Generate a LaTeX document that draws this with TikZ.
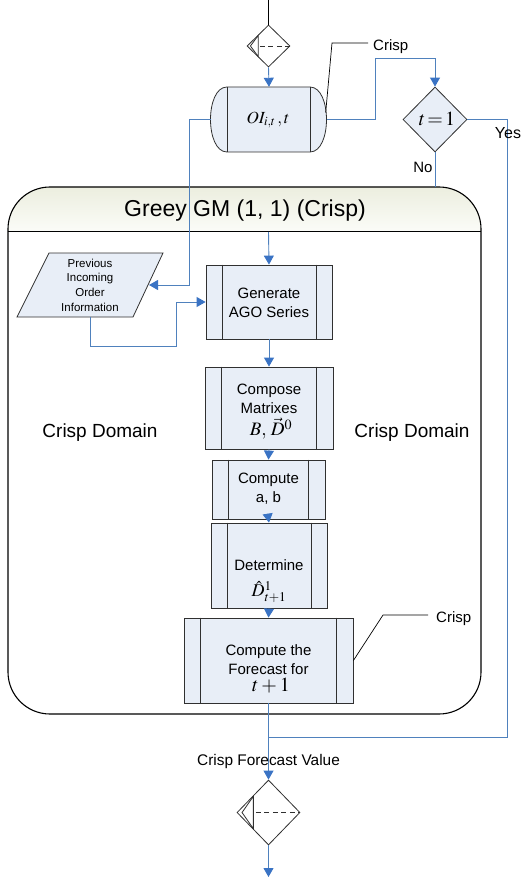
\documentclass[tikz,border=0pt]{standalone}
\usepackage{mathptmx}
\usepackage{fontspec}
\setmainfont{Liberation Sans}
\usetikzlibrary{arrows.meta,shapes.geometric,calc}
\definecolor{boxfill}{HTML}{E8EEF7}
\definecolor{linkblue}{HTML}{4F81BD}
\definecolor{tipblue}{HTML}{3A73C4}
\definecolor{hdrtop}{HTML}{ECEEDF}
\definecolor{hdrbot}{HTML}{FBFCF8}
\definecolor{boxedgec}{HTML}{303030}
\newcommand\subrlines[2]{\draw[boxedge] ([xshift=#2pt]#1.north west) -- ([xshift=#2pt]#1.south west) ([xshift=-#2pt]#1.north east) -- ([xshift=-#2pt]#1.south east);}
\newcommand\conndeco[3]{%
  \draw[boxedge] ($(#1.center)+(-0.48*#2,-0.5*#3)$) -- ($(#1.center)+(-0.84*#2,0)$) -- ($(#1.center)+(-0.48*#2,0.5*#3)$) -- cycle;
  \draw[boxedge, dash pattern=on 5pt off 3.5pt] ($(#1.center)+(-0.40*#2,0)$) -- (#1.east);}
\tikzset{
  boxedge/.style={draw=boxedgec, line width=0.8pt},
  procbox/.style={boxedge, fill=boxfill, inner sep=0pt},
  boxtext/.style={font=\fontsize{15}{19}\selectfont, align=center, inner sep=0pt},
  link/.style={draw=linkblue, line width=0.9pt},
  flow/.style={link, -{Triangle[width=10pt,length=9pt,color=tipblue]}},
  callout/.style={draw=black, line width=0.7pt},
  plain/.style={inner sep=0pt},
}
\begin{document}
\begin{tikzpicture}[x=1pt,y=-1pt]
\useasboundingbox (0,0) rectangle (522,877);

% container
\begin{scope}
  \clip[rounded corners=42pt] (8,187) rectangle (481,714);
  \shade[top color=hdrtop,bottom color=hdrbot] (8,187) rectangle (481,232);
\end{scope}
\draw[line width=1.1pt, black, rounded corners=42pt] (8,187) rectangle (481,714);
\draw[line width=1pt, black] (8,232) -- (481,232);
\node[plain, font=\fontsize{23}{23}\selectfont] (title) at (245,211) {Greey GM (1, 1) (Crisp)};
\coordinate (hdr) at (268.5,232);
\coordinate (noend) at (435,187);

\node[plain, font=\fontsize{19}{19}\selectfont] (domL) at (100,433) {Crisp Domain};
\node[plain, font=\fontsize{19}{19}\selectfont] (domR) at (412,433) {Crisp Domain};

% top connector
\coordinate (inend) at (268.5,0);
\node[diamond, aspect=1, boxedge, fill=white, minimum width=43pt, minimum height=42pt, inner sep=0pt] (tdia) at (268.5,46) {};
\conndeco{tdia}{21.5}{21}

% drum
\node[plain, minimum width=115pt, minimum height=65pt] (drum) at (269,119.5) {};
\draw[boxedge, fill=boxfill] (227,87) -- (310,87) .. controls (332,87) and (332,152) .. (310,152) -- (227,152) .. controls (205,152) and (205,87) .. (227,87) -- cycle;
\draw[boxedge] (227,87) -- (227,152) (310,87) -- (310,152);
\node[plain, font=\fontsize{17}{17}\selectfont] (drumtxt) at (268,120) {$OI_{i,t}\,,t$};

% decision
\node[diamond, aspect=1, boxedge, fill=boxfill, minimum width=64pt, minimum height=65pt, inner sep=0pt] (dec) at (435,119.5) {};
\node[plain, font=\fontsize{20}{20}\selectfont] (dectxt) at (437,119) {$t\!=\!1$};

% parallelogram
\draw[boxedge, fill=boxfill] (49,253) -- (163,253) -- (133,317) -- (17,317) -- cycle;
\node[plain, font=\fontsize{11.5}{14.6}\selectfont, align=center] (prev) at (90,285) {Previous\\Incoming\\Order\\Information};
\coordinate (prevR) at (149,285);
\coordinate (prevB) at (90,317);

% process boxes
\node[procbox, minimum width=126pt, minimum height=74pt] (gen) at (269,302) {};
\subrlines{gen}{16.5}
\node[boxtext] (gentxt) at (269,302.5) {Generate\\AGO Series};

\node[procbox, minimum width=128pt, minimum height=82pt] (comp) at (269,408) {};
\subrlines{comp}{17}
\node[boxtext] (comptxt) at (269,398.5) {Compose\\Matrixes};
\node[plain, font=\fontsize{19}{19}\selectfont] (compmath) at (271,429) {$B,\,\vec{D}^{0}$};

\node[procbox, minimum width=113pt, minimum height=59pt] (cab) at (268.5,489.5) {};
\subrlines{cab}{17}
\node[boxtext] (cabtxt) at (268.5,489) {Compute\\a, b};

\node[procbox, minimum width=116pt, minimum height=85pt] (det) at (269,565.5) {};
\subrlines{det}{16.5}
\node[boxtext] (dettxt) at (269,565) {Determine};
\node[plain, font=\fontsize{18}{18}\selectfont] (detmath) at (269,592) {$\hat{D}^{1}_{t+1}$};

\node[procbox, minimum width=169pt, minimum height=85pt] (fc) at (268.5,660.5) {};
\subrlines{fc}{17}
\node[boxtext] (fctxt) at (268.5,660) {Compute the\\Forecast for};
\node[plain, font=\fontsize{20}{20}\selectfont] (fcmath) at (271,686) {$t+1$};

% bottom connector
\node[diamond, aspect=1, boxedge, fill=white, minimum width=63pt, minimum height=65pt, inner sep=0pt] (bdia) at (268.5,812.5) {};
\conndeco{bdia}{31.5}{32.5}
\coordinate (outend) at (268.5,877);
\coordinate (join) at (268.5,737);

% connectors
\draw[line width=0.8pt, black] (inend) -- (tdia.north);
\draw[flow] (tdia.south) -- (drum.north);
\draw[flow] (drum.west) -- (189,119.5) -- (189,285) -- (prevR);
\draw[flow] (prevB) -- (90,346) -- (176,346) -- (176,302) -- (gen.west);
\draw[flow] (drum.east) -- (375,119.5) -- (375,58) -- (435,58) -- (dec.north);
\draw[link] (dec.east) -- (507,119.5) -- (507,737) -- (join);
\draw[link] (dec.south) -- (noend);
\draw[flow] (hdr) -- (gen.north);
\draw[flow] (gen.south) -- (comp.north);
\draw[flow] (comp.south) -- (cab.north);
\draw[flow] (cab.south) -- (det.north);
\draw[flow] (det.south) -- (fc.north);
\draw[flow] (fc.south) -- (bdia.north);
\draw[flow] (bdia.south) -- (outend);

% labels
\node[plain, font=\fontsize{16}{16}\selectfont] (yes) at (508,133) {Yes};
\node[plain, font=\fontsize{15}{15}\selectfont] (no) at (423,167) {No};
\node[plain, font=\fontsize{15.4}{15.4}\selectfont] (cfv) at (268.5,762) {Crisp Forecast Value};

% callouts
\node[plain, font=\fontsize{15}{15}\selectfont, anchor=west] (crisp1) at (373,47) {Crisp};
\draw[callout] ($(drum.east)+(-1,-7)$) -- (332,43) -- (368,43);
\node[plain, font=\fontsize{15}{15}\selectfont, anchor=west] (crisp2) at (436,619) {Crisp};
\draw[callout] (fc.east) -- (383,615) -- (428,615);
\end{tikzpicture}
\end{document}
